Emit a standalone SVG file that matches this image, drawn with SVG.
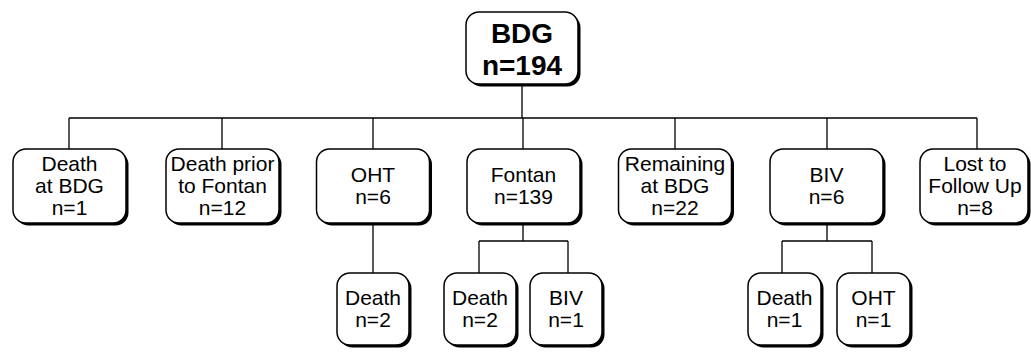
<svg xmlns="http://www.w3.org/2000/svg" width="1031" height="352" viewBox="0 0 1031 352">
<style>
.sh{fill:#000}
.bx{fill:#fff;stroke:#000;stroke-width:1.5}
text{font-family:"Liberation Sans",Arial,sans-serif;font-size:21px;fill:#000;text-anchor:middle}
.b{font-weight:bold;font-size:28px}
.ln{stroke:#000;stroke-width:1.3;fill:none}
</style>
<rect width="1031" height="352" fill="#fff"/>
<g id="connectors" class="ln">
<path d="M522 84V118M69 118H977M69 118V149M222 118V149M373 118V149M523 118V149M675 118V149M827 118V149M977 118V149"/>
<path d="M373 223V273"/>
<path d="M523 223V241M479 241H568M479 241V273M568 241V273"/>
<path d="M827 223V241M782 241H872M782 241V273M872 241V273"/>
</g>
<g id="n-bdg"><rect class="sh" x="468.5" y="14.5" width="112" height="72" rx="13"/><rect class="bx" x="466" y="12" width="112" height="72" rx="13"/><text class="b" x="522" y="43">BDG</text><text class="b" x="522" y="75">n=194</text></g>
<g id="n-death-bdg"><rect class="sh" x="15.5" y="151.5" width="113" height="74" rx="13"/><rect class="bx" x="13" y="149" width="113" height="74" rx="13"/><text x="69.5" y="171">Death</text><text x="69.5" y="193">at BDG</text><text x="69.5" y="215">n=1</text></g>
<g id="n-death-prior"><rect class="sh" x="168.5" y="151.5" width="113" height="74" rx="13"/><rect class="bx" x="166" y="149" width="113" height="74" rx="13"/><text x="222.5" y="171">Death prior</text><text x="222.5" y="193">to Fontan</text><text x="222.5" y="215">n=12</text></g>
<g id="n-oht"><rect class="sh" x="319" y="151.5" width="113" height="74" rx="13"/><rect class="bx" x="316.5" y="149" width="113" height="74" rx="13"/><text x="373" y="182">OHT</text><text x="373" y="204">n=6</text></g>
<g id="n-fontan"><rect class="sh" x="469.5" y="151.5" width="113" height="74" rx="13"/><rect class="bx" x="467" y="149" width="113" height="74" rx="13"/><text x="523.5" y="182">Fontan</text><text x="523.5" y="204">n=139</text></g>
<g id="n-remaining"><rect class="sh" x="621" y="151.5" width="113" height="74" rx="13"/><rect class="bx" x="618.5" y="149" width="113" height="74" rx="13"/><text x="675" y="171">Remaining</text><text x="675" y="193">at BDG</text><text x="675" y="215">n=22</text></g>
<g id="n-biv"><rect class="sh" x="772.5" y="151.5" width="113" height="74" rx="13"/><rect class="bx" x="770" y="149" width="113" height="74" rx="13"/><text x="826.5" y="182">BIV</text><text x="826.5" y="204">n=6</text></g>
<g id="n-lost"><rect class="sh" x="922.5" y="151.5" width="108" height="74" rx="13"/><rect class="bx" x="920" y="149" width="108" height="74" rx="13"/><text x="975" y="171">Lost to</text><text x="975" y="193">Follow Up</text><text x="975" y="215">n=8</text></g>
<g id="n-oht-death"><rect class="sh" x="339.5" y="275.5" width="72" height="72" rx="13"/><rect class="bx" x="337" y="273" width="72" height="72" rx="13"/><text x="373" y="305">Death</text><text x="373" y="327">n=2</text></g>
<g id="n-fontan-death"><rect class="sh" x="446.5" y="275.5" width="72" height="72" rx="13"/><rect class="bx" x="444" y="273" width="72" height="72" rx="13"/><text x="480" y="305">Death</text><text x="480" y="327">n=2</text></g>
<g id="n-fontan-biv"><rect class="sh" x="532.5" y="275.5" width="72" height="72" rx="13"/><rect class="bx" x="530" y="273" width="72" height="72" rx="13"/><text x="566" y="305">BIV</text><text x="566" y="327">n=1</text></g>
<g id="n-biv-death"><rect class="sh" x="750.5" y="275.5" width="73" height="72" rx="13"/><rect class="bx" x="748" y="273" width="73" height="72" rx="13"/><text x="784.5" y="305">Death</text><text x="784.5" y="327">n=1</text></g>
<g id="n-biv-oht"><rect class="sh" x="839.5" y="275.5" width="73" height="72" rx="13"/><rect class="bx" x="837" y="273" width="73" height="72" rx="13"/><text x="873.5" y="305">OHT</text><text x="873.5" y="327">n=1</text></g>
</svg>
